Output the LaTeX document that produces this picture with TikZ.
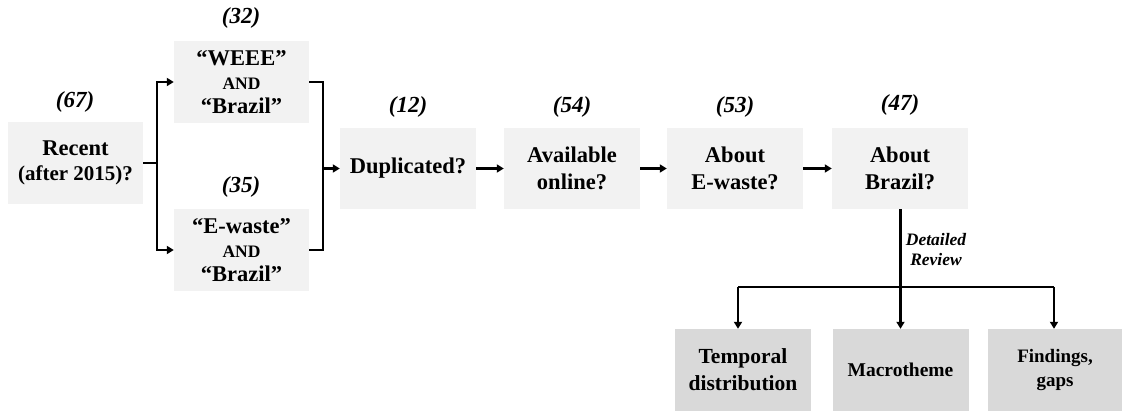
\documentclass[tikz,border=0pt]{standalone}
\usepackage{fontspec}
\setmainfont{Liberation Serif}
\usetikzlibrary{arrows.meta,calc}
\tikzset{
  box/.style={fill=black!5, minimum width=135pt, minimum height=82pt, inner sep=0pt, align=center, font=\bfseries\fontsize{22.5}{27}\selectfont},
  lowbox/.style={box, fill=black!15, font=\bfseries\fontsize{21.5}{27}\selectfont},
  cnt/.style={font=\bfseries\itshape\fontsize{23}{24}\selectfont, inner sep=0pt},
  lnk/.style={line width=2.6pt, black},
  arr/.style={lnk, -{Triangle[length=7pt,width=8pt]}},
}
\begin{document}
\begin{tikzpicture}[x=1pt,y=-1pt]
\useasboundingbox (0,0) rectangle (1122,411);
% boxes
\node[box, font=\bfseries\fontsize{22.5}{25}\selectfont] (rec) at (75.5,163) {Recent\\\fontsize{21}{25}\selectfont(after 2015)?};
\node[box, font=\bfseries\fontsize{22.5}{24}\selectfont] (weee) at (241.5,82) {``WEEE''\\\fontsize{17.5}{24}\selectfont AND\\``Brazil''};
\node[box, font=\bfseries\fontsize{22.5}{24}\selectfont] (ewaste) at (241.5,250) {``E-waste''\\\fontsize{17.5}{24}\selectfont AND\\``Brazil''};
\node[box, minimum width=136pt, minimum height=81pt] (dup) at (408,168.5) {Duplicated?};
\node[box, minimum width=136pt, minimum height=81pt] (avail) at (572,168.5) {Available\\online?};
\node[box, minimum width=136pt, minimum height=81pt] (abew) at (735,168.5) {About\\E-waste?};
\node[box, minimum width=136pt, minimum height=81pt] (abbr) at (900,168.5) {About\\Brazil?};
\node[lowbox, minimum width=136pt] (temp) at (743,370) {Temporal\\distribution};
\node[lowbox, minimum width=136pt, font=\bfseries\fontsize{19.5}{24}\selectfont] (macro) at (900.5,370) {Macrotheme};
\node[lowbox, minimum width=134pt, font=\bfseries\fontsize{19}{24}\selectfont] (find) at (1055,370) {Findings,\\gaps};
% counts
\node[cnt] (c67) at (75,102) {(67)};
\node[cnt] (c32) at (241,18) {(32)};
\node[cnt] (c35) at (241,187) {(35)};
\node[cnt] (c12) at (408,107) {(12)};
\node[cnt] (c54) at (572,107) {(54)};
\node[cnt] (c53) at (735,107) {(53)};
\node[cnt] (c47) at (900,105) {(47)};
\node[font=\bfseries\itshape\fontsize{17.5}{20}\selectfont, align=center, inner sep=0pt] (dr) at (936,250) {Detailed\\Review};
% fork
\coordinate (fk) at (157,163);
\draw[lnk] (rec.east) -- (fk);
\draw[arr] (fk) |- (weee.west);
\draw[arr] (fk) |- (ewaste.west);
% merge
\coordinate (jn) at (323,168.5);
\draw[lnk] (weee.east) -| (jn);
\draw[lnk] (ewaste.east) -| (jn);
\draw[arr] (jn) -- (dup.west);
% chain
\draw[arr] (dup.east) -- (avail.west);
\draw[arr] (avail.east) -- (abew.west);
\draw[arr] (abew.east) -- (abbr.west);
% bottom split
\coordinate (hl) at (738,287);
\coordinate (hr) at (1054,287);
\draw[arr] (abbr.south -| macro.north) -- (macro.north);
\draw[lnk] (hl) -- (hr);
\draw[arr] (hl) -- (hl |- temp.north);
\draw[arr] (hr) -- (hr |- temp.north);
\end{tikzpicture}
\end{document}
